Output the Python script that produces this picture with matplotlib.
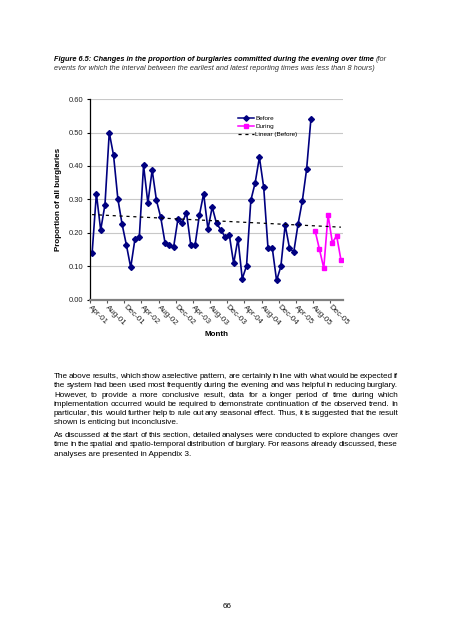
import numpy as np
import matplotlib
matplotlib.use("Agg")
import matplotlib.pyplot as plt
from matplotlib.lines import Line2D

plt.rcParams['font.family'] = ['Liberation Sans', 'DejaVu Sans']

# data (Apr-01 .. Feb-06, monthly)
before = [0.138, 0.317, 0.208, 0.284, 0.500, 0.432, 0.302, 0.225, 0.163, 0.096,
          0.182, 0.186, 0.402, 0.289, 0.388, 0.297, 0.246, 0.170, 0.162, 0.157,
          0.240, 0.230, 0.260, 0.163, 0.163, 0.252, 0.317, 0.211, 0.277, 0.228,
          0.209, 0.187, 0.192, 0.108, 0.182, 0.062, 0.101, 0.297, 0.349, 0.426,
          0.336, 0.154, 0.154, 0.057, 0.099, 0.223, 0.155, 0.142, 0.225, 0.295,
          0.390, 0.540]
during = [0.205, 0.150, 0.094, 0.254, 0.170, 0.191, 0.119]
tick_labels = ['Apr-01', 'Aug-01', 'Dec-01', 'Apr-02', 'Aug-02', 'Dec-02', 'Apr-03',
               'Aug-03', 'Dec-03', 'Apr-04', 'Aug-04', 'Dec-04', 'Apr-05', 'Aug-05',
               'Dec-05']
y_ticks = [0.0, 0.1, 0.2, 0.3, 0.4, 0.5, 0.6]

para1 = ["The above results, which show a selective pattern, are certainly in line with what would be expected if",
         "the system had been used most frequently during the evening and was helpful in reducing burglary.",
         "However, to provide a more conclusive result, data for a longer period of time during which",
         "implementation occurred would be required to demonstrate continuation of the observed trend. In",
         "particular, this would further help to rule out any seasonal effect. Thus, it is suggested that the result",
         "shown is enticing but inconclusive."]
para2 = ["As discussed at the start of this section, detailed analyses were conducted to explore changes over",
         "time in the spatial and spatio-temporal distribution of burglary.  For reasons already discussed, these",
         "analyses are presented in Appendix 3."]

n_total = len(before) + len(during)
x_before = np.arange(len(before))
x_during = np.arange(len(before), n_total)
x_all = np.arange(n_total)

fig = plt.figure(figsize=(4.52, 6.4), dpi=100)
ax = fig.add_axes([0.199, 0.532, 0.56, 0.313])

navy = '#000080'
magenta = '#FF00FF'

ax.plot(x_before, before, color=navy, lw=1.2, marker='D', ms=3.0, label='Before')
ax.plot(x_during, during, color=magenta, lw=1.2, marker='s', ms=3.4, label='During')
# linear trend of Before, carried forward
k, b = np.polyfit(x_before, before, 1)
ax.plot(x_all, k * x_all + b, color='black', lw=0.9, ls=(0, (2.5, 3)), label='Linear (Before)')

ax.set_xlim(-0.5, n_total - 0.5)
ax.set_ylim(0, 0.6)
ax.set_yticks(y_ticks)
ax.set_yticklabels(['%.2f' % v for v in y_ticks], fontsize=5.4, color='#222222')
ax.yaxis.grid(True, color='#c8c8c8', lw=0.8)
ax.set_axisbelow(True)

ax.set_xticks(np.arange(-0.5, n_total - 0.5, 4))
ax.set_xticklabels([])
ax.set_xticks(np.arange(0, n_total, 4)[:len(tick_labels)], minor=True)
ax.set_xticklabels(tick_labels, minor=True, rotation=-45, ha='left', va='top',
                   rotation_mode='anchor', fontsize=5.8, color='#222222')
ax.tick_params(axis='x', which='minor', length=0, pad=3)
ax.tick_params(axis='x', which='major', length=2.5, color='#555555')
ax.tick_params(axis='y', length=2.5, pad=2)

for s in ['top', 'right']:
    ax.spines[s].set_visible(False)
ax.spines['bottom'].set_color('#808080')
ax.spines['bottom'].set_linewidth(1.6)
ax.spines['left'].set_color('black')
ax.spines['left'].set_linewidth(0.9)

ax.set_xlabel('Month', fontsize=5.8, fontweight='bold', labelpad=3)
ax.set_ylabel('Proportion of all burglaries', fontsize=5.8, fontweight='bold', labelpad=5)

handles = [Line2D([], [], color=navy, lw=1.1, marker='D', ms=2.8),
           Line2D([], [], color=magenta, lw=1.1, marker='s', ms=3.2),
           Line2D([], [], color='black', lw=0.9, ls=(0, (2.5, 3)))]
ax.legend(handles, ['Before', 'During', 'Linear (Before)'], loc='upper left',
          bbox_to_anchor=(0.573, 0.935), frameon=False, fontsize=4.6,
          handlelength=2.4, handletextpad=0.3, labelspacing=0.4, borderpad=0)

# caption above the chart
renderer = fig.canvas.get_renderer()
t = fig.text(54 / 452, 1 - 61 / 640, 'Figure 6.5: Changes in the proportion of burglaries committed during the evening over time',
             fontsize=5.3, fontweight='bold', style='italic', va='baseline')
bb = t.get_window_extent(renderer)
fig.text(bb.x1 / 452 + 0.004, 1 - 61 / 640, '(for', fontsize=5.3, style='italic',
         va='baseline', color='#333333')
fig.text(54 / 452, 1 - 70 / 640, 'events for which the interval between the earliest and latest reporting times was less than 8 hours)',
         fontsize=5.3, style='italic', va='baseline', color='#333333')


def text_width(s, size):
    tt = fig.text(0, 0, s, fontsize=size)
    w = tt.get_window_extent(renderer).width
    tt.remove()
    return w


def justified(lines, y0, step, x0=54, x1=398, size=5.85):
    for i, line in enumerate(lines):
        y = 1 - round(y0 + i * step) / 640
        if i == len(lines) - 1:
            fig.text(x0 / 452, y, ' '.join(line.split()), fontsize=size, va='baseline')
            continue
        words = line.split()
        widths = [text_width(w, size) for w in words]
        gap = (x1 - x0 - sum(widths)) / (len(words) - 1)
        x = x0
        for w, wd in zip(words, widths):
            if w.endswith(','):
                # comma drawn on its own so the word keeps the line's baseline
                fig.text(x / 452, y, w[:-1], fontsize=size, va='baseline')
                stem = text_width(w[:-1], size)
                fig.text((x + stem - 1.4) / 452, y, ',', fontsize=size, va='baseline')
            else:
                fig.text(x / 452, y, w, fontsize=size, va='baseline')
            x += wd + gap


justified(para1, 378, 9.3)
justified(para2, 437.3, 9.2)
fig.text(227 / 452, 1 - 607 / 640, '66', fontsize=5.8, ha='center', va='center')

fig.savefig('out.png', dpi=100)
